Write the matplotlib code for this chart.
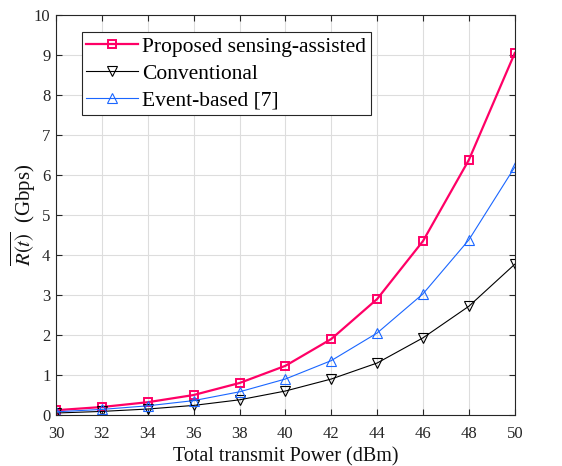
import matplotlib
matplotlib.use("Agg")
import matplotlib.pyplot as plt

power = [30, 32, 34, 36, 38, 40, 42, 44, 46, 48, 50]
proposed = [0.12, 0.20, 0.32, 0.50, 0.80, 1.23, 1.90, 2.90, 4.35, 6.38, 9.05]
conventional = [0.05, 0.09, 0.15, 0.24, 0.38, 0.60, 0.90, 1.30, 1.93, 2.72, 3.77]
event = [0.08, 0.14, 0.23, 0.36, 0.58, 0.90, 1.36, 2.05, 3.03, 4.38, 6.20]
labels = ["Proposed sensing-assisted", "Conventional", "Event-based [7]"]

plt.rcParams['font.family'] = ['Liberation Serif', 'DejaVu Serif']
plt.rcParams['mathtext.fontset'] = 'stix'

fig = plt.figure(figsize=(5.62, 4.66), dpi=100)
ax = fig.add_axes([0.0996, 0.1094, 0.8164, 0.8584])

ax.plot(power, proposed, color='#ff0066', lw=1.6, marker='s', ms=5.5, mfc='none', mew=1.4, label=labels[0])
ax.plot(power, conventional, color='black', lw=0.8, marker='v', ms=7.5, mfc='none', mew=0.8, label=labels[1])
ax.plot(power, event, color='#1a66ff', lw=0.8, marker='^', ms=7.5, mfc='none', mew=0.8, label=labels[2])

ax.set_xlim(30, 50)
ax.set_ylim(0, 10)
ax.set_xticks(range(30, 51, 2))
ax.set_yticks(range(0, 11))
ax.grid(True, color='#dddddd', lw=0.8)
ax.set_axisbelow(True)
ax.tick_params(direction='in', top=True, right=True, labelsize=12, colors='#262626', labelcolor='#262626', length=4)
ax.tick_params(axis='x', pad=8)
ax.tick_params(axis='y', pad=4)
for s in ax.spines.values():
    s.set_color('#262626')
    s.set_linewidth(0.8)

ax.set_xlabel("Total transmit Power (dBm)", fontsize=14.5, color='#111111', labelpad=4)
ax.set_ylabel(r"$\overline{R(t)}$  (Gbps)", fontsize=15, color='#111111', labelpad=-3)

leg = ax.legend(loc='upper left', bbox_to_anchor=(0.057, 0.957), fontsize=15.5, frameon=True, fancybox=False,
                edgecolor='#262626', framealpha=1, borderpad=0.2, labelspacing=0.32, handlelength=2.4,
                handletextpad=0.2, borderaxespad=0)
leg.get_frame().set_linewidth(0.8)

fig.savefig("out.png", dpi=100)
